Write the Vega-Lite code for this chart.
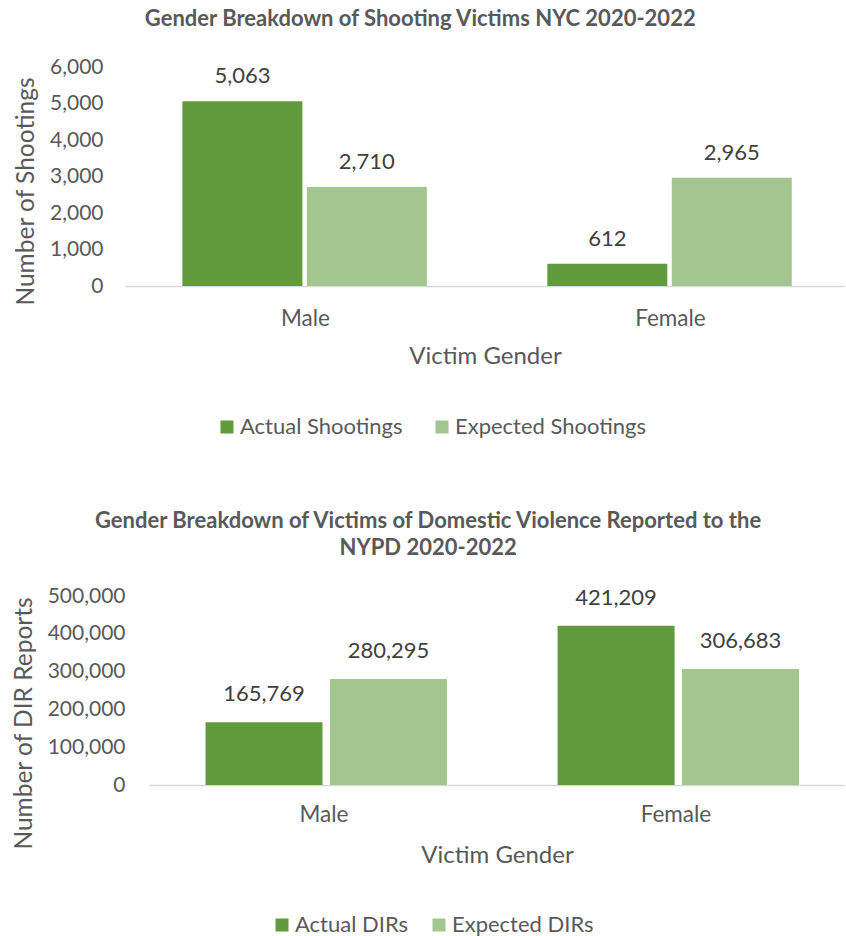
{
  "$schema": "https://vega.github.io/schema/vega-lite/v6.json",
  "background": "white",
  "padding": {"left": 11, "top": 8, "right": 0, "bottom": 0},
  "config": {
    "font": "Lato",
    "view": {"stroke": null},
    "axis": {"labelColor": "#595959", "titleColor": "#595959", "titleFontWeight": "normal", "labelFont": "Lato", "titleFont": "Lato"},
    "legend": {"labelColor": "#595959", "labelFont": "Lato"},
    "title": {"color": "#595959", "font": "Lato", "fontWeight": "bold"}
  },
  "vconcat": [
    {
      "title": {"text": "Gender Breakdown of Shooting Victims NYC 2020-2022", "fontSize": 22, "frame": "bounds", "anchor": "middle", "offset": 25, "dx": -9},
      "width": 720,
      "height": 219,
      "data": {"values": [
        {"gender": "Male", "series": "Actual Shootings", "value": 5063},
        {"gender": "Male", "series": "Expected Shootings", "value": 2710},
        {"gender": "Female", "series": "Actual Shootings", "value": 612},
        {"gender": "Female", "series": "Expected Shootings", "value": 2965}
      ]},
      "encoding": {
        "x": {"field": "gender", "type": "nominal", "sort": ["Male", "Female"],
          "scale": {"paddingInner": 0.326, "paddingOuter": 0.1495, "align": 0.234},
          "axis": {"title": "Victim Gender", "labelAngle": 0, "labelOffset": 32, "ticks": false, "domainColor": "#d9d9d9", "domainWidth": 1.5, "labelFontSize": 22.5, "labelPadding": 21, "titleFontSize": 24, "titlePadding": 15}},
        "xOffset": {"field": "series", "type": "nominal", "scale": {"paddingInner": 0.0476, "paddingOuter": 0}},
        "y": {"field": "value", "type": "quantitative",
          "scale": {"domain": [0, 6000], "nice": false},
          "axis": {"title": "Number of Shootings", "values": [0, 1000, 2000, 3000, 4000, 5000, 6000], "format": ",.0f", "grid": false, "domain": false, "ticks": false, "labelFontSize": 21, "labelPadding": 22, "titleFontSize": 24.5, "titlePadding": 11, "titleY": 124}}
      },
      "layer": [
        {"mark": {"type": "bar", "width": 120},
          "encoding": {"color": {"field": "series", "type": "nominal",
            "scale": {"domain": ["Actual Shootings", "Expected Shootings"], "range": ["#629B3E", "#A3C590"]},
            "legend": {"title": null, "orient": "none", "direction": "horizontal", "legendX": 91, "legendY": 349, "symbolType": "square", "symbolSize": 169, "labelFontSize": 22, "labelOffset": 2, "labelLimit": 400, "columnPadding": 28, "symbolStrokeWidth": 0}}}},
        {"mark": {"type": "text", "baseline": "bottom", "dy": -13, "fontSize": 22, "color": "#404040"},
          "encoding": {"text": {"field": "value", "type": "quantitative", "format": ","}}}
      ]
    },
    {
      "title": {"text": ["Gender Breakdown of Victims of Domestic Violence Reported to the", "NYPD 2020-2022"], "fontSize": 22, "lineHeight": 27, "frame": "bounds", "anchor": "middle", "offset": 25},
      "width": 720,
      "height": 189,
      "data": {"values": [
        {"gender": "Male", "series": "Actual DIRs", "value": 165769},
        {"gender": "Male", "series": "Expected DIRs", "value": 280295},
        {"gender": "Female", "series": "Actual DIRs", "value": 421209},
        {"gender": "Female", "series": "Expected DIRs", "value": 306683}
      ]},
      "encoding": {
        "x": {"field": "gender", "type": "nominal", "sort": ["Male", "Female"],
          "scale": {"range": [24, 720], "paddingInner": 0.321, "paddingOuter": 0.149, "align": 0.814},
          "axis": {"title": "Victim Gender", "labelAngle": 0, "labelOffset": -30, "ticks": false, "domainColor": "#d9d9d9", "domainWidth": 1.5, "labelFontSize": 22.5, "labelPadding": 18, "titleFontSize": 24, "titlePadding": 18}},
        "xOffset": {"field": "series", "type": "nominal", "scale": {"paddingInner": 0.042, "paddingOuter": 0}},
        "y": {"field": "value", "type": "quantitative",
          "scale": {"domain": [0, 500000], "nice": false},
          "axis": {"title": "Number of DIR Reports", "values": [0, 100000, 200000, 300000, 400000, 500000], "format": ",.0f", "grid": false, "domain": false, "ticks": false, "labelFontSize": 21, "labelPadding": 0, "titleFontSize": 24.5, "titlePadding": 11, "titleY": 127}}
      },
      "layer": [
        {"mark": {"type": "bar", "width": 117},
          "encoding": {"color": {"field": "series", "type": "nominal",
            "scale": {"domain": ["Actual DIRs", "Expected DIRs"], "range": ["#629B3E", "#A3C590"]},
            "legend": {"title": null, "orient": "none", "direction": "horizontal", "legendX": 146, "legendY": 318, "symbolType": "square", "symbolSize": 169, "labelFontSize": 22, "labelOffset": 2, "labelLimit": 400, "columnPadding": 19, "symbolStrokeWidth": 0}}}},
        {"mark": {"type": "text", "baseline": "bottom", "dy": -16, "fontSize": 22, "color": "#404040"},
          "encoding": {"text": {"field": "value", "type": "quantitative", "format": ","}}}
      ]
    }
  ],
  "spacing": 72,
  "resolve": {"scale": {"color": "independent"}, "legend": {"color": "independent"}}
}
